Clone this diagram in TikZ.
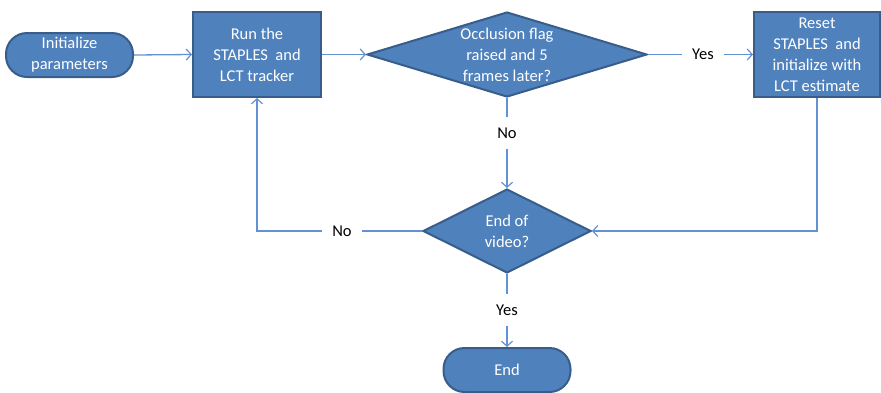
\documentclass[tikz,border=0pt]{standalone}
\usepackage{fontspec}
\setmainfont{Carlito}
\usetikzlibrary{shapes.geometric,arrows.meta}
\definecolor{boxfill}{HTML}{4F81BD}
\definecolor{boxline}{HTML}{385D8A}
\definecolor{connline}{RGB}{98,146,212}
\tikzset{
  every node/.style={font=\fontsize{16.5}{21}\selectfont, align=center},
  shape base/.style={fill=boxfill, draw=boxline, line width=2pt, text=white, inner sep=0pt},
  procbox/.style={shape base, rectangle},
  termbox/.style={shape base, rectangle, rounded corners=21pt},
  decision/.style={shape base, diamond},
  innertext/.style={text=white, inner sep=0pt},
  lbl/.style={text=black, inner sep=10pt},
  conn/.style={draw=connline, line width=1.3pt},
  flow/.style={conn, -{Straight Barb[length=5pt,width=11pt,line width=1.2pt]}}
}
\begin{document}
\begin{tikzpicture}[x=1pt, y=-1pt]
\useasboundingbox (0,0) rectangle (881,392);

% process and terminal boxes
\node[termbox, minimum width=127pt, minimum height=44pt] (init) at (69.5,55) {Initialize\\parameters};
\node[procbox, minimum width=128pt, minimum height=85pt] (run) at (257,54.5) {Run the\\STAPLES\ \ and\\LCT tracker};
\node[procbox, minimum width=126pt, minimum height=85pt] (reset) at (817,54.5) {Reset\\STAPLES\ \ and\\initialize with\\LCT estimate};
\node[termbox, minimum width=127pt, minimum height=44pt] (end) at (507,370) {End};

% decisions
\node[decision, minimum width=280pt, minimum height=85pt] (occ) at (507,54.5) {};
\node[innertext] (occtext) at (occ) {Occlusion flag\\raised and 5\\frames later?};
\node[decision, minimum width=168pt, minimum height=84pt] (eov) at (507,231) {};
\node[innertext] (eovtext) at (eov) {End of\\video?};

% branch labels
\node[lbl] (yes1) at (703,54.5) {Yes};
\node[lbl] (no1) at (507,133) {No};
\node[lbl] (no2) at (342,231) {No};
\node[lbl] (yes2) at (507,310) {Yes};

% connectors
\draw[flow] (init.east) -- (run.west);
\draw[flow] (run.east) -- (occ.west);
\draw[conn] (occ.east) -- (yes1.west);
\draw[flow] (yes1.east) -- (reset.west);
\draw[conn] (occ.south) -- (no1.north);
\draw[flow] (no1.south) -- (eov.north);
\draw[flow] (reset.south) -- (reset.south |- eov.east) -- (eov.east);
\draw[conn] (eov.west) -- (no2.east);
\draw[flow] (no2.west) -- (run.south |- no2.west) -- (run.south);
\draw[conn] (eov.south) -- (yes2.north);
\draw[flow] (yes2.south) -- (end.north);
\end{tikzpicture}
\end{document}
